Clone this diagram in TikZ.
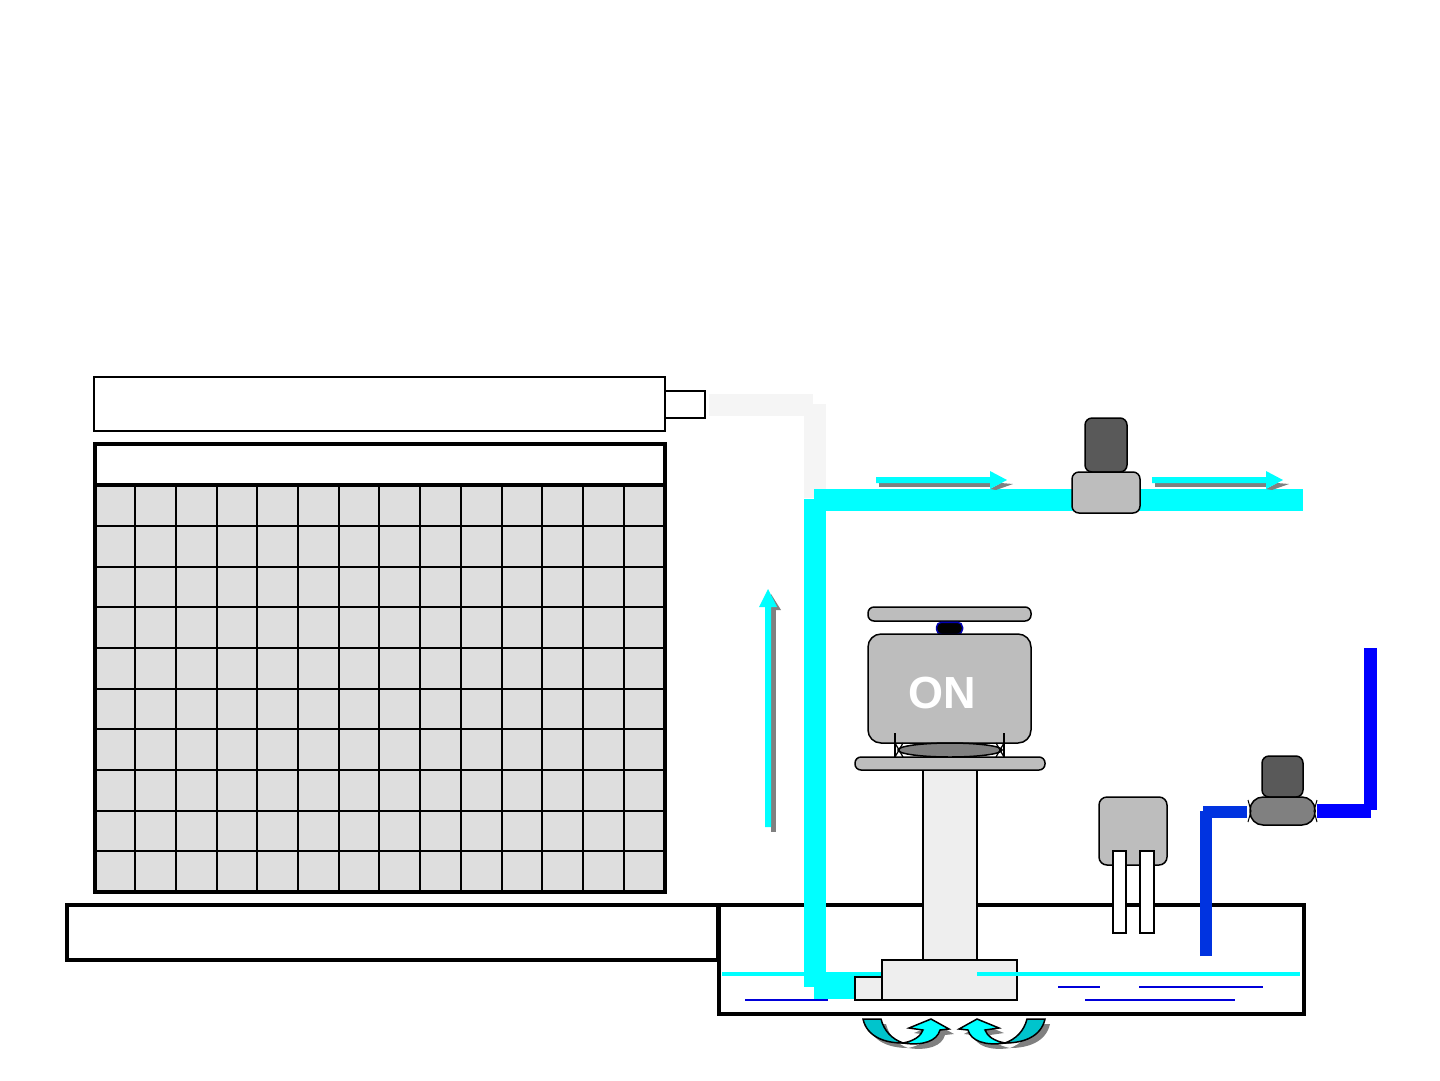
\documentclass[tikz,border=0pt]{standalone}
\usepackage{fontspec}
\setmainfont{Liberation Sans}
\usetikzlibrary{positioning, shapes.geometric}
\definecolor{waterc}{HTML}{00FFFF}
\definecolor{tealc}{HTML}{00C4CC}
\definecolor{cellc}{HTML}{DEDEDE}
\definecolor{bodyc}{HTML}{BDBDBD}
\definecolor{darkc}{HTML}{595959}
\definecolor{midc}{HTML}{808080}
\definecolor{steelc}{HTML}{EEEEEE}
\definecolor{drainc}{HTML}{0033E0}
\tikzset{
  part/.style={draw=black, line width=1.5pt, inner sep=0pt, outer sep=0pt},
  softpart/.style={part, rounded corners=7pt},
  pipe/.style={line width=#1, line cap=butt},
  heavy/.style={draw=black, line width=4pt},
  cellline/.style={draw=black, line width=1.6pt},
  ripple/.style={draw=blue!85!black, line width=1.5pt},
}
% straight flow arrow with its shadow, tail at the scope origin
\newcommand{\flowarrow}{%
  \fill[midc] (3,3) rectangle (114,7);
  \fill[midc] (114,9) -- (120,10) -- (137,4) -- (125,3) -- cycle;
  \fill[waterc] (0,-3) -- (114,-3) -- (114,-9) -- (131,0) -- (114,9) -- (114,3) -- (0,3) -- cycle;
}
% curved return arrow under the tank
\newcommand{\swirltail}{(863,1019) -- (881,1019)
    .. controls (884,1031) and (892,1039) .. (903,1043)
    .. controls (885,1043) and (867,1037) .. (863,1019) -- cycle}
\newcommand{\swirlhead}{(903,1043) .. controls (914,1041) and (921,1036) .. (923,1030)
    -- (909,1028) -- (931,1019) -- (949,1029) -- (940,1030)
    .. controls (937,1041) and (923,1046) .. (903,1043) -- cycle}
\newcommand{\swirl}[1]{%
  \fill[midc, shift={(#1,5)}] \swirltail;
  \fill[midc, shift={(#1,5)}] \swirlhead;
  \fill[waterc, draw=black, line width=1.5pt] \swirlhead;
  \fill[tealc, draw=black, line width=1.5pt] \swirltail;
}

\begin{document}
\begin{tikzpicture}[x=1pt, y=-1pt]
  \fill[white] (0,0) rectangle (1440,1080);
  \useasboundingbox (0,0) rectangle (1440,1080);

  % Coil and its header
  \node[part, fill=white, anchor=north west, minimum width=571pt, minimum height=54pt] (header) at (94,377) {};
  \node[part, fill=white, anchor=west, minimum width=40pt, minimum height=27pt] (stub) at (665,404.5) {};
  \fill[cellc] (95,485) rectangle (665,892);
  \foreach \x in {135,176,217,257,298,339,379,420,461,502,542,583,624}
    \draw[cellline] (\x,485) -- (\x,892);
  \foreach \y in {526,567,607,648,689,729,770,811,851}
    \draw[cellline] (95,\y) -- (665,\y);
  \node[heavy, inner sep=0pt, outer sep=0pt, anchor=north west, minimum width=570pt, minimum height=448pt] (coil) at (95,444) {};
  \draw[heavy] (95,485) -- (665,485);

  % Tank
  \node[heavy, inner sep=0pt, outer sep=0pt, anchor=north west, minimum width=651pt, minimum height=55pt] (sump) at (67,905) {};
  \node[heavy, inner sep=0pt, outer sep=0pt, anchor=north west, minimum width=585pt, minimum height=109pt] (tank) at (719,905) {};
  \draw[ripple] (745,1000) -- (828,1000);
  \draw[ripple] (1058,987) -- (1100,987);
  \draw[ripple] (1139,987) -- (1263,987);
  \draw[ripple] (1085,1000) -- (1235,1000);

  % Water pipes
  \coordinate (hotin) at (709,405);
  \coordinate (hotbend) at (813,405);
  \coordinate (hottop) at (815,404);
  \coordinate (hotend) at (815,498);
  \coordinate (risetop) at (815,499);
  \coordinate (risebot) at (815,987);
  \coordinate (linea) at (814,500);
  \coordinate (lineb) at (1303,500);
  \coordinate (foota) at (814,985.5);
  \coordinate (footb) at (855,985.5);
  \draw[pipe=22pt, draw=black!4] (hotin) -- (hotbend);
  \draw[pipe=22pt, draw=black!4] (hottop) -- (hotend);
  \draw[pipe=4pt, draw=waterc] (722,973.5) -- (882,973.5);
  \draw[pipe=22pt, draw=waterc] (risetop) -- (risebot);
  \draw[pipe=22pt, draw=waterc] (linea) -- (lineb);
  \draw[pipe=27pt, draw=waterc] (foota) -- (footb);

  % Pump
  \node[part, fill=steelc, anchor=north, minimum width=54pt, minimum height=190pt] (column) at (950,770) {};
  \node[part, fill=steelc, anchor=north west, minimum width=135pt, minimum height=40pt] (base) at (882,960) {};
  \node[part, fill=steelc, anchor=east, minimum width=27pt, minimum height=23pt] (inlet) at (882,988.5) {};
  \draw[pipe=4pt, draw=waterc] (977,973.5) -- (1300,973.5);

  % Motor
  \node[part, fill=bodyc, rounded corners=6pt, anchor=north, minimum width=163pt, minimum height=14pt] (topplate) at (949.5,607) {};
  \node[draw=blue!70!black, line width=1.5pt, fill=black, rounded corners=5pt, inner sep=0pt, minimum width=26pt, minimum height=12pt, below=0.5pt of topplate] (coupling) {};
  \node[part, fill=bodyc, rounded corners=13pt, anchor=north, minimum width=163pt, minimum height=109pt] (motor) at (949.5,634) {};
  \node[font=\bfseries\fontsize{45}{50}\selectfont, text=white, inner sep=0pt] (on) at (942,693) {ON};
  \node[part, fill=bodyc, rounded corners=6pt, anchor=north, minimum width=190pt, minimum height=13pt] (footplate) at (950,757) {};
  \node[part, fill=midc, ellipse, minimum width=104pt, minimum height=14pt, anchor=south] (mount) at (950,757) {};
  \foreach \a/\b in {895/903,1004/996} {
    \draw[line width=1.2pt] (\a,733) -- (\a,757);
    \draw[line width=1.2pt] (\a,743) -- (\b,757);
    \draw[line width=1.2pt] (\a,757) -- (\b,743);
  }

  % Line valve
  \node[softpart, fill=darkc, anchor=north, minimum width=42pt, minimum height=54pt] (solenoid) at (1106,418) {};
  \node[softpart, fill=bodyc, below=0pt of solenoid, minimum width=68pt, minimum height=41pt] (valve) {};

  % Float switch
  \node[part, fill=bodyc, rounded corners=8pt, anchor=north west, minimum width=68pt, minimum height=68pt] (float) at (1099,797) {};
  \node[part, fill=white, anchor=north west, minimum width=13pt, minimum height=82pt] (proba) at (1113,851) {};
  \node[part, fill=white, right=14pt of proba, minimum width=14pt, minimum height=82pt] (probb) {};

  % Make-up water valve and pipes
  \node[softpart, fill=darkc, anchor=north, minimum width=41pt, minimum height=41pt] (makeuptop) at (1282.5,756) {};
  \node[part, fill=midc, rounded corners=13pt, below=0pt of makeuptop, minimum width=65pt, minimum height=28pt] (makeup) {};
  \coordinate (draina) at (1206,956);
  \coordinate (drainb) at (1206,811);
  \coordinate (drainc) at (1203,812);
  \coordinate (draind) at (1247,812);
  \coordinate (supplya) at (1317,811);
  \coordinate (supplyb) at (1371,811);
  \coordinate (supplyc) at (1370.5,810);
  \coordinate (supplyd) at (1370.5,648);
  \draw[pipe=12pt, draw=drainc] (draina) -- (drainb);
  \draw[pipe=12pt, draw=drainc] (drainc) -- (draind);
  \draw[pipe=14pt, draw=blue] (supplya) -- (supplyb);
  \draw[pipe=13pt, draw=blue] (supplyc) -- (supplyd);
  \foreach \a/\b in {1248/1251,1317/1314} {
    \draw[line width=1pt] (\a,800) -- (\b,811) -- (\a,822);
  }

  % Flow arrows
  \begin{scope}[shift={(876,480)}]
    \flowarrow
  \end{scope}
  \begin{scope}[shift={(1152,480)}]
    \flowarrow
  \end{scope}
  \fill[midc] (771,607) rectangle (776,832);
  \fill[midc] (771,607) -- (771,594) -- (781,610) -- (771,610) -- cycle;
  \fill[waterc] (765,827) -- (765,607) -- (759,607) -- (768,589) -- (777,607) -- (771,607) -- (771,827) -- cycle;

  % Return swirls
  \swirl{5}
  \begin{scope}[xshift=1908pt, xscale=-1]
    \swirl{-5}
  \end{scope}
\end{tikzpicture}
\end{document}
